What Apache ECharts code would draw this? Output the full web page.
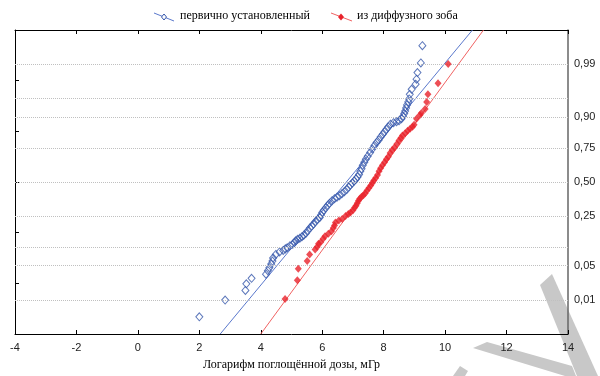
<!DOCTYPE html>
<html>
<head>
<meta charset="utf-8">
<script src="https://cdn.jsdelivr.net/npm/echarts@6/dist/echarts.min.js"></script>
<style>html,body{margin:0;padding:0;background:#fff}#c{width:600px;height:376px}</style>
</head>
<body>
<div id="c"></div>
<script>
// x ticks
var xMin = -4, xMax = 14, xStep = 2;
// probability grid positions (normal z) and their labels
var gridZ = [-2.326, -1.645, -1.282, -0.674, 0, 0.674, 1.282, 1.645, 2.326];
var gridLabels = ['0,01', '0,05', '', '0,25', '0,50', '0,75', '0,90', '', '0,99'];
var seriesNames = ['первично установленный', 'из диффузного зоба'];

// blue: [log dose, expected normal value]
var blueData = [
[2.00,-2.66],[2.84,-2.33],[3.50,-2.14],[3.53,-2.01],[3.70,-1.90],
[4.17,-1.82],[4.23,-1.75],[4.28,-1.69],[4.34,-1.62],[4.38,-1.56],[4.40,-1.50],[4.49,-1.43],
[4.61,-1.38],[4.73,-1.35],[4.80,-1.32],[4.86,-1.30],[4.95,-1.26],[5.04,-1.23],[5.10,-1.19],
[5.14,-1.16],[5.20,-1.13],[5.27,-1.11],[5.34,-1.08],[5.40,-1.05],[5.47,-1.01],[5.53,-0.96],
[5.60,-0.91],[5.66,-0.87],[5.72,-0.83],[5.78,-0.78],[5.85,-0.74],[5.92,-0.70],[5.96,-0.65],
[6.00,-0.60],[6.05,-0.56],[6.12,-0.51],[6.18,-0.46],[6.24,-0.42],[6.32,-0.37],[6.40,-0.33],
[6.48,-0.30],[6.56,-0.27],[6.64,-0.23],[6.72,-0.19],[6.80,-0.15],[6.86,-0.10],[6.92,-0.06],
[6.98,-0.02],[7.04,0.02],[7.10,0.06],[7.15,0.10],[7.20,0.15],[7.24,0.21],[7.28,0.26],
[7.32,0.33],[7.37,0.39],[7.42,0.45],[7.48,0.51],[7.56,0.58],[7.63,0.65],[7.70,0.72],
[7.77,0.78],[7.84,0.83],[7.90,0.89],[7.97,0.94],[8.03,0.99],[8.09,1.04],[8.15,1.09],
[8.22,1.14],[8.32,1.17],[8.42,1.19],[8.50,1.21],[8.58,1.25],[8.63,1.30],[8.67,1.35],
[8.70,1.40],[8.73,1.46],[8.76,1.52],[8.80,1.58],[8.83,1.64],[8.85,1.73],[8.91,1.83],
[9.04,1.93],[9.07,2.03],[9.10,2.16],[9.21,2.35],[9.26,2.69]
];
// red
var redData = [
[4.79,-2.31],[5.19,-1.94],[5.22,-1.71],[5.51,-1.56],[5.59,-1.43],[5.77,-1.33],[5.84,-1.28],
[5.88,-1.22],[5.95,-1.19],[6.03,-1.12],[6.09,-1.07],[6.20,-1.02],[6.30,-0.97],[6.36,-0.91],
[6.40,-0.86],[6.43,-0.80],[6.54,-0.76],[6.65,-0.73],[6.76,-0.67],[6.85,-0.63],[6.92,-0.60],
[7.00,-0.56],[7.05,-0.51],[7.10,-0.47],[7.14,-0.42],[7.18,-0.37],[7.22,-0.33],[7.28,-0.29],
[7.34,-0.26],[7.40,-0.22],[7.46,-0.17],[7.52,-0.12],[7.58,-0.07],[7.63,-0.02],[7.68,0.03],
[7.74,0.08],[7.80,0.14],[7.85,0.21],[7.90,0.27],[7.96,0.33],[8.03,0.39],[8.09,0.45],
[8.15,0.50],[8.21,0.57],[8.28,0.63],[8.35,0.68],[8.43,0.75],[8.50,0.82],[8.56,0.87],
[8.61,0.92],[8.70,0.96],[8.78,1.01],[8.86,1.05],[8.94,1.09],[8.99,1.13],[9.07,1.25],
[9.18,1.32],[9.23,1.36],[9.35,1.44],[9.40,1.58],[9.44,1.73],[9.77,1.95],[10.10,2.33]
];
// fitted normal lines: endpoints at bottom and top of the frame
var blueFit = [[2.68,-3],[10.89,3]];
var redFit = [[4.00,-3],[11.25,3]];

var chart = echarts.init(document.getElementById('c'), null, {renderer:'canvas'});

var markData = gridZ.map(function(z, i){
  return {yAxis: z, label: {show: gridLabels[i] !== '', formatter: gridLabels[i]}};
});

function diamond(cx, cy, w, h){
  return [[cx, cy-h/2],[cx+w/2, cy],[cx, cy+h/2],[cx-w/2, cy]];
}

var option = {
  animation: false,
  backgroundColor: '#fff',
  grid: {left: 15, right: 32, top: 30, bottom: 38, containLabel: false},
  xAxis: [{
    type: 'value', min: xMin, max: xMax, interval: xStep, position: 'bottom',
    axisLine: {show: true, onZero: false, lineStyle: {color: '#000', width: 1}},
    axisTick: {show: true, inside: true, length: 4, lineStyle: {color: '#000'}},
    axisLabel: {show: true, color: '#222', fontFamily: 'Liberation Sans', fontSize: 11, margin: 8, showMinLabel: true, showMaxLabel: true},
    splitLine: {show: false},
    name: 'Логарифм поглощённой дозы, мГр', nameLocation: 'middle', nameGap: 25,
    nameTextStyle: {fontFamily: 'Liberation Serif', fontSize: 12, color: '#000'}
  }, {
    type: 'value', min: xMin, max: xMax, interval: xStep, position: 'top',
    axisLine: {show: true, onZero: false, lineStyle: {color: '#000', width: 1}},
    axisTick: {show: true, inside: true, length: 4, lineStyle: {color: '#000'}},
    axisLabel: {show: false}, splitLine: {show: false}
  }],
  yAxis: [{
    type: 'value', min: -3, max: 3, interval: 1, position: 'left',
    axisLine: {show: true, onZero: false, lineStyle: {color: '#000', width: 1}},
    axisTick: {show: true, inside: true, length: 4, lineStyle: {color: '#000'}},
    axisLabel: {show: false}, splitLine: {show: false}
  }, {
    type: 'value', min: -3, max: 3, interval: 1, position: 'right',
    axisLine: {show: true, onZero: false, lineStyle: {color: '#666', width: 1.5}},
    axisTick: {show: false}, axisLabel: {show: false}, splitLine: {show: false}
  }],
  series: [{
    name: seriesNames[0] + ' fit', type: 'line', data: blueFit, showSymbol: false, symbol: 'none',
    lineStyle: {color: '#5a78cc', width: 1}, z: 2, silent: true,
    markLine: {
      silent: true, symbol: 'none', animation: false,
      lineStyle: {color: '#c0c0c0', type: 'dotted', width: 1},
      label: {position: 'end', distance: 6, color: '#222', fontFamily: 'Liberation Sans', fontSize: 11},
      emphasis: {disabled: true},
      data: markData
    }
  }, {
    name: seriesNames[1] + ' fit', type: 'line', data: redFit, showSymbol: false, symbol: 'none',
    lineStyle: {color: '#f06262', width: 1}, z: 2, silent: true
  }, {
    name: seriesNames[0], type: 'scatter', data: blueData, symbol: 'diamond', symbolSize: [7, 8],
    itemStyle: {color: 'rgba(255,255,255,0)', borderColor: '#3556aa', borderWidth: 1}, z: 4
  }, {
    name: seriesNames[1], type: 'scatter', data: redData, symbol: 'diamond', symbolSize: [7, 8],
    itemStyle: {color: '#e8222b'}, z: 5
  }],
  graphic: [
    {type: 'line', shape: {x1: 154, y1: 13, x2: 174, y2: 21}, style: {stroke: '#5a78cc', lineWidth: 1}},
    {type: 'polygon', shape: {points: diamond(164, 17, 5, 6)}, style: {fill: '#fff', stroke: '#3556aa', lineWidth: 1}},
    {type: 'text', left: 180, top: 10, style: {text: seriesNames[0], fontFamily: 'Liberation Serif', fontSize: 12, fill: '#000'}},
    {type: 'line', shape: {x1: 331, y1: 13, x2: 352, y2: 21}, style: {stroke: '#f06262', lineWidth: 1}},
    {type: 'polygon', shape: {points: diamond(341, 17, 6, 7)}, style: {fill: '#e8222b'}},
    {type: 'text', left: 357, top: 10, style: {text: seriesNames[1], fontFamily: 'Liberation Serif', fontSize: 12, fill: '#000'}},
    {type: 'polygon', z: -10, shape: {points: [[540,285],[552,274],[598,376],[577,376]]}, style: {fill: '#c8c8c8'}},
    {type: 'polygon', z: -10, shape: {points: [[473,348],[487,342],[572,366],[576,376],[565,376]]}, style: {fill: '#c8c8c8'}},
    {type: 'polygon', z: -10, shape: {points: [[453,376],[460,366],[468,371],[465,376]]}, style: {fill: '#c8c8c8'}}
  ]
};
chart.setOption(option);
</script>
</body>
</html>
